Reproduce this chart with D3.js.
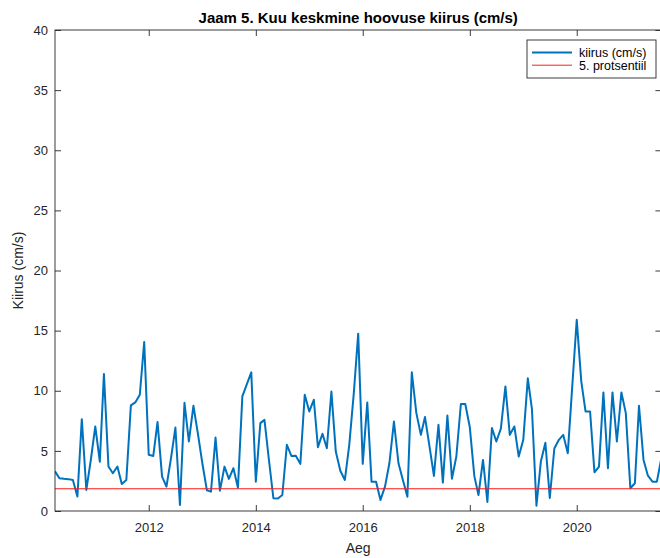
<!DOCTYPE html>
<html>
<head>
<meta charset="utf-8">
<script src="https://cdn.jsdelivr.net/npm/d3@7"></script>
<style>
  html, body { margin: 0; padding: 0; background: #ffffff; }
  svg { display: block; font-family: "Liberation Sans", Arial, Helvetica, sans-serif; }
</style>
</head>
<body>
<svg id="chart" width="660" height="558"></svg>
<script>
// Monthly mean current speed at station 5, first month April 2010
const startMonth = new Date(2010, 3, 1);
const speed = [
  3.3, 2.72, 2.68, 2.65, 2.58, 1.2, 7.64, 1.75, 4.2, 7.03,
  4.1, 11.4, 3.7, 3.14, 3.7, 2.25, 2.58, 8.78, 9.03, 9.67,
  14.05, 4.67, 4.58, 7.4, 2.86, 2.03, 4.4, 6.94, 0.5, 9.0,
  5.78, 8.75, 6.47, 3.97, 1.72, 1.61, 6.11, 1.69, 3.69, 2.67,
  3.56, 1.94, 9.53, 10.55, 11.53, 2.44, 7.31, 7.58, 4.2, 1.06,
  1.04, 1.33, 5.5, 4.58, 4.6, 3.92, 9.67, 8.28, 9.25, 5.31,
  6.42, 5.22, 9.94, 4.94, 3.35, 2.58, 5.5, 9.8, 14.75, 3.92,
  9.03, 2.44, 2.44, 0.92, 2.03, 3.97, 7.44, 3.97, 2.58, 1.19,
  11.53, 8.14, 6.33, 7.81, 5.36, 2.92, 7.17, 2.36, 7.94, 2.68,
  4.53, 8.9, 8.9, 6.96, 2.9, 1.33, 4.25, 0.75, 6.9, 5.78,
  6.85, 10.36, 6.33, 7.03, 4.53, 5.92, 11.03, 8.5, 0.44, 4.11,
  5.67, 1.08, 5.2, 5.92, 6.33, 4.81, 10.3, 15.9, 10.78, 8.28,
  8.28, 3.22, 3.69, 9.86, 3.56, 9.86, 5.78, 9.86, 8.14, 1.89,
  2.31, 8.75, 4.25, 2.94, 2.44, 2.44, 4.4
];
// 5th percentile of the current speed
const percentile5 = 1.85;

const yTicks = [0, 5, 10, 15, 20, 25, 30, 35, 40];
const xTickYears = [2012, 2014, 2016, 2018, 2020];
const legendLabels = ["kiirus (cm/s)", "5. protsentiil"];
const titleText = "Jaam 5. Kuu keskmine hoovuse kiirus (cm/s)";
const xLabel = "Aeg";
const yLabel = "Kiirus (cm/s)";

const months = speed.map((_, i) => d3.timeMonth.offset(startMonth, i));
const data = months.map((d, i) => ({ date: d, value: speed[i] }));

const svg = d3.select("#chart");
const plotLeft = 55, plotTop = 30, plotBottom = 511;
const x = d3.scaleTime()
  .domain([months[0], months[months.length - 1]])
  .range([plotLeft, 661.4]);
const y = d3.scaleLinear().domain([0, 40]).range([plotBottom, plotTop]);
const plotRight = x.range()[1];

const axisColor = "#262626";
const tickLen = 6;

// data series
const clipId = "plotclip";
svg.append("defs").append("clipPath").attr("id", clipId)
  .append("rect").attr("x", plotLeft).attr("y", plotTop)
  .attr("width", plotRight - plotLeft).attr("height", plotBottom - plotTop);

const g = svg.append("g");
g.append("path")
  .datum(data)
  .attr("fill", "none")
  .attr("stroke", "#0072BD")
  .attr("stroke-width", 2)
  .attr("stroke-linejoin", "round")
  .attr("clip-path", `url(#${clipId})`)
  .attr("d", d3.line().x(d => x(d.date)).y(d => y(d.value)));

// 5th percentile reference line
g.append("line")
  .attr("x1", plotLeft).attr("x2", plotRight)
  .attr("y1", y(percentile5)).attr("y2", y(percentile5))
  .attr("stroke", "#ff1a1a")
  .attr("stroke-width", 1);

// axes box
svg.append("rect")
  .attr("x", plotLeft).attr("y", plotTop)
  .attr("width", plotRight - plotLeft).attr("height", plotBottom - plotTop)
  .attr("fill", "none").attr("stroke", axisColor).attr("stroke-width", 0.9);

// x axis (bottom labels, inward ticks on bottom and top)
const xTickDates = xTickYears.map(yr => new Date(yr, 0, 1));
const xAxis = d3.axisBottom(x)
  .tickValues(xTickDates)
  .tickFormat(d3.timeFormat("%Y"))
  .tickSizeInner(-tickLen)
  .tickSizeOuter(0)
  .tickPadding(12);
const gx = svg.append("g").attr("transform", `translate(0,${plotBottom})`).call(xAxis);
gx.select(".domain").remove();
gx.selectAll(".tick line").attr("stroke", axisColor).attr("stroke-width", 0.9);
gx.selectAll(".tick text").attr("fill", "#262626").style("font-size", "13px")
  .style("font-family", "'Liberation Sans', Arial, sans-serif");

const xTop = d3.axisTop(x).tickValues(xTickDates).tickFormat("").tickSizeInner(-tickLen).tickSizeOuter(0);
const gxt = svg.append("g").attr("transform", `translate(0,${plotTop})`).call(xTop);
gxt.select(".domain").remove();
gxt.selectAll(".tick line").attr("stroke", axisColor).attr("stroke-width", 0.9);

// y axis (left labels, inward ticks on left and right)
const yAxis = d3.axisLeft(y).tickValues(yTicks).tickSizeInner(-tickLen).tickSizeOuter(0).tickPadding(7);
const gy = svg.append("g").attr("transform", `translate(${plotLeft},0)`).call(yAxis);
gy.select(".domain").remove();
gy.selectAll(".tick line").attr("stroke", axisColor).attr("stroke-width", 0.9);
gy.selectAll(".tick text").attr("fill", "#262626").style("font-size", "13px")
  .style("font-family", "'Liberation Sans', Arial, sans-serif");

const yRight = d3.axisRight(y).tickValues(yTicks).tickFormat("").tickSizeInner(-tickLen).tickSizeOuter(0);
const gyr = svg.append("g").attr("transform", `translate(${plotRight},0)`).call(yRight);
gyr.select(".domain").remove();
gyr.selectAll(".tick line").attr("stroke", axisColor).attr("stroke-width", 0.9);

// title and axis labels
svg.append("text")
  .attr("x", (plotLeft + plotRight) / 2).attr("y", 23)
  .attr("text-anchor", "middle")
  .style("font-size", "15px").style("font-weight", "bold")
  .attr("fill", "#000")
  .text(titleText);

svg.append("text")
  .attr("x", (plotLeft + plotRight) / 2).attr("y", 553)
  .attr("text-anchor", "middle")
  .style("font-size", "14px")
  .attr("fill", "#262626")
  .text(xLabel);

svg.append("text")
  .attr("transform", `translate(23,${(plotTop + plotBottom) / 2}) rotate(-90)`)
  .attr("text-anchor", "middle")
  .style("font-size", "14px")
  .attr("fill", "#262626")
  .text(yLabel);

// legend
const lg = svg.append("g").attr("transform", "translate(527,40)");
lg.append("rect").attr("x", 0).attr("y", 0).attr("width", 129).attr("height", 38)
  .attr("fill", "#fff").attr("stroke", axisColor).attr("stroke-width", 0.9);
const legendStyles = [
  { color: "#0072BD", width: 2 },
  { color: "#ff1a1a", width: 1 }
];
legendLabels.forEach((label, i) => {
  const ly = 12.5 + i * 12.7;
  lg.append("line").attr("x1", 5).attr("x2", 45).attr("y1", ly).attr("y2", ly)
    .attr("stroke", legendStyles[i].color).attr("stroke-width", legendStyles[i].width);
  lg.append("text").attr("x", 52).attr("y", ly + 4.3)
    .style("font-size", "12.5px").attr("fill", "#000").text(label);
});
</script>
</body>
</html>
